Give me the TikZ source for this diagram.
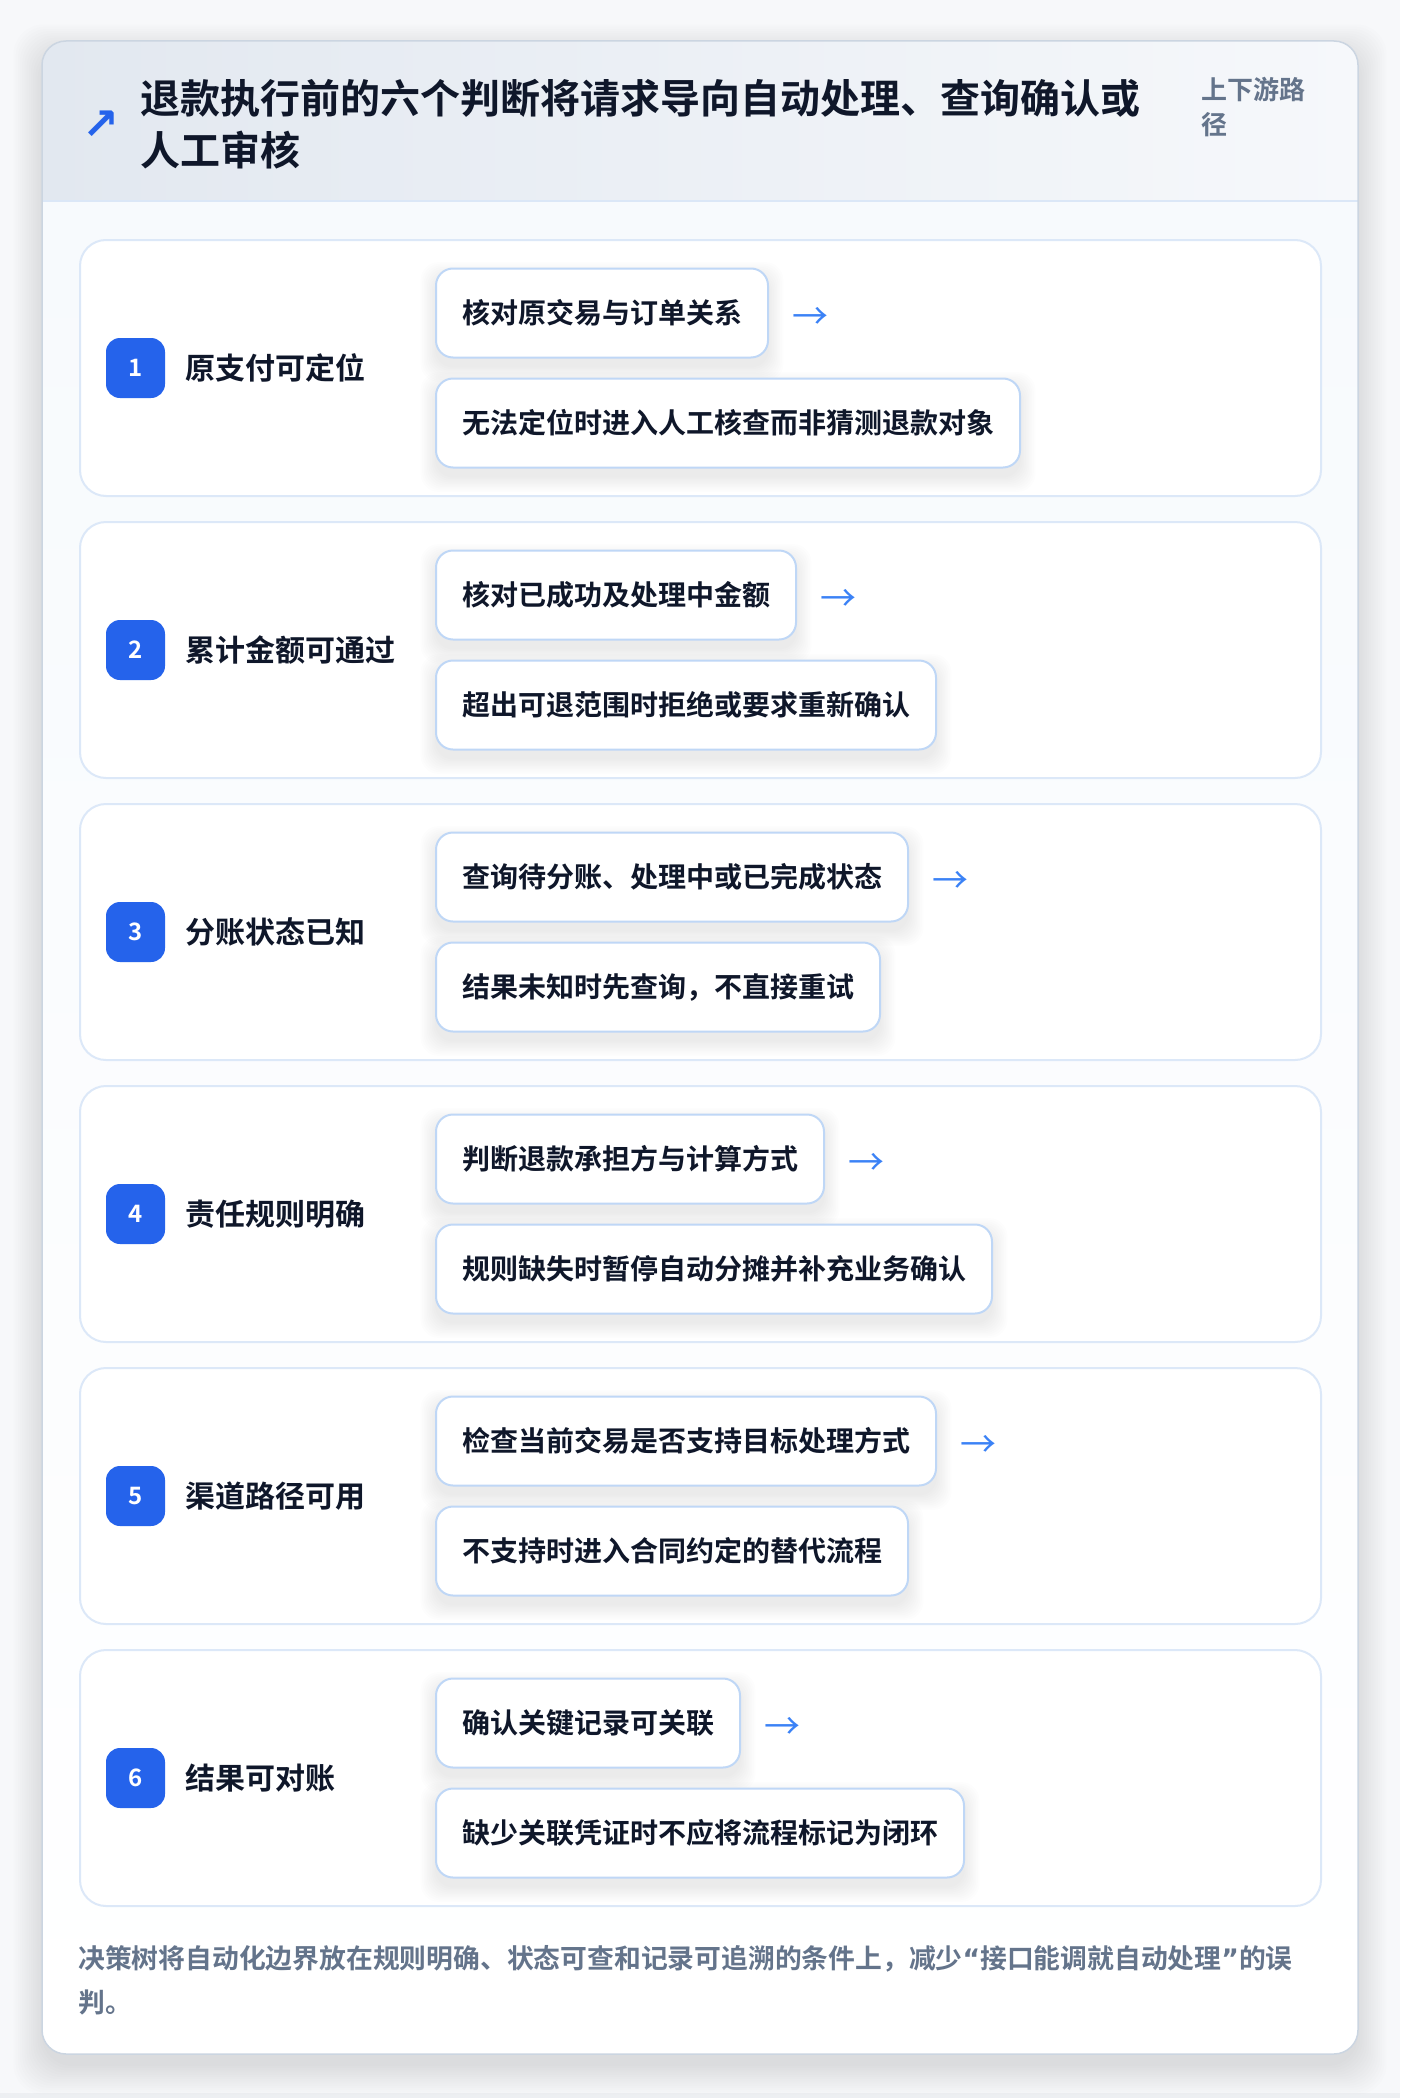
\documentclass[tikz,border=0pt]{standalone}
\usepackage{fontspec}
\setmainfont{Noto Sans CJK SC}[BoldFont={Noto Sans CJK SC Bold}]
\newfontfamily\symfont{DejaVu Sans}
\usetikzlibrary{calc}
\definecolor{pagebg}{HTML}{F7F8FA}
\definecolor{ink}{HTML}{0F172A}
\definecolor{brand}{HTML}{2563EB}
\definecolor{arrowblue}{HTML}{3B82F6}
\definecolor{rowline}{HTML}{DCE8F8}
\definecolor{subline}{HTML}{BFD7F6}
\definecolor{cardline}{HTML}{CBD5E1}
\definecolor{hdrL}{HTML}{E2E8F0}
\definecolor{hdrR}{HTML}{F6F8FB}
\definecolor{hdrline}{HTML}{DBE7F7}
\definecolor{bodyT}{HTML}{F7FAFD}
\definecolor{muted}{HTML}{64748B}
\definecolor{bottomstrip}{HTML}{EDEFF2}
\definecolor{shadowc}{HTML}{1E293B}
\pgfdeclarelayer{back}
\pgfdeclarelayer{rows}
\pgfdeclarelayer{shadows}
\pgfsetlayers{back,rows,shadows,main}
\tikzset{
  rowbox/.style={draw=rowline, line width=2pt, fill=white, rounded corners=26pt,
    minimum width=1241pt, minimum height=256pt, anchor=north west, inner sep=0pt},
  subbox/.style={draw=subline, line width=2pt, fill=white, rounded corners=17pt,
    minimum height=89pt, inner xsep=26pt, inner ysep=0pt, anchor=west, text=ink,
    font=\bfseries\fontsize{28}{34}\selectfont},
  badge/.style={fill=brand, rounded corners=14pt, minimum width=59pt, minimum height=60pt,
    inner sep=0pt, text=white, font=\bfseries\fontsize{24}{24}\selectfont},
  steplabel/.style={anchor=west, inner sep=0pt, text=ink, font=\bfseries\fontsize{30}{36}\selectfont},
  arrowglyph/.style={anchor=west, inner sep=0pt, text=arrowblue, font=\fontsize{36}{36}\selectfont},
}
\newcommand{\softshadow}[1]{%
  \foreach \k in {0,...,9} {
    \fill[shadowc, opacity=0.009, rounded corners=18pt]
      ($(#1.south west)+(-\k*1.6,\k*1.6+9)$) rectangle ($(#1.north east)+(\k*1.6,-\k*1.6+9)$);
  }%
}
\newcommand{\decrow}[5]{%
  \begin{pgfonlayer}{rows}
    \node[rowbox] (row#1) at (79,#2) {};
  \end{pgfonlayer}
  \node[badge] (badge#1) at (135.5,#2+129) {#1};
  \node[steplabel] (label#1) at (185,#2+129) {#3};
  \node[subbox] (top#1) at (435,#2+74) {#4};
  \node[subbox] (bot#1) at (435,#2+184) {#5};
  \node[arrowglyph] (arr#1) at ([xshift=23pt,yshift=-5pt]top#1.east) {→};
  \begin{pgfonlayer}{shadows}
    \softshadow{top#1}
    \softshadow{bot#1}
  \end{pgfonlayer}
}
\begin{document}
\begin{tikzpicture}[x=1pt,y=-1pt]
  \useasboundingbox (0,0) rectangle (1400,2098);
  \begin{pgfonlayer}{back}
  \fill[pagebg] (0,0) rectangle (1400,2098);
  \fill[bottomstrip] (0,2093) rectangle (1400,2098);
  % card shadow
  \foreach \k in {0,...,13} {
    \fill[shadowc, opacity=0.006, rounded corners=30pt]
      (42-\k*2.2,41-\k*2.2+12) rectangle (1358+\k*2.2,2054+\k*2.2+12);
  }
  % card
  \fill[white, rounded corners=24pt] (42,41) rectangle (1358,2054);
  \begin{scope}
    \clip[rounded corners=24pt] (42,41) rectangle (1358,2054);
    \shade[left color=hdrL, right color=hdrR] (42,41) rectangle (1358,201);
    \shade[top color=bodyT, bottom color=white] (42,201) rectangle (1358,2054);
  \end{scope}
  \draw[hdrline, line width=2pt] (42,201) -- (1358,201);
  \draw[cardline, line width=1.5pt, rounded corners=24pt] (42,41) rectangle (1358,2054);
  \end{pgfonlayer}
  % header
  \node[text=brand, font=\symfont\bfseries\fontsize{44}{44}\selectfont, inner sep=0pt] (icon) at (101,125) {↗};
  \node[anchor=west, align=left, text=ink, inner sep=0pt,
    font=\bfseries\fontsize{40}{52}\selectfont] (title) at (140,124)
    {退款执行前的六个判断将请求导向自动处理、查询确认或\\人工审核};
  \node[anchor=west, align=left, text=muted, inner sep=0pt,
    font=\bfseries\fontsize{26}{35}\selectfont] (side) at (1201,107)
    {上下游路\\径};
  % rows
  \decrow{1}{239}{原支付可定位}{核对原交易与订单关系}{无法定位时进入人工核查而非猜测退款对象}
  \decrow{2}{521}{累计金额可通过}{核对已成功及处理中金额}{超出可退范围时拒绝或要求重新确认}
  \decrow{3}{803}{分账状态已知}{查询待分账、处理中或已完成状态}{结果未知时先查询，不直接重试}
  \decrow{4}{1085}{责任规则明确}{判断退款承担方与计算方式}{规则缺失时暂停自动分摊并补充业务确认}
  \decrow{5}{1367}{渠道路径可用}{检查当前交易是否支持目标处理方式}{不支持时进入合同约定的替代流程}
  \decrow{6}{1649}{结果可对账}{确认关键记录可关联}{缺少关联凭证时不应将流程标记为闭环}
  % footer
  \node[anchor=west, align=left, text=muted, inner sep=0pt,
    font=\bfseries\fontsize{26.8}{44}\selectfont] (foot) at (78,1980)
    {决策树将自动化边界放在规则明确、状态可查和记录可追溯的条件上，减少{\symfont\bfseries “}接口能调就自动处理{\symfont\bfseries ”}的误\\判。};
\end{tikzpicture}
\end{document}
